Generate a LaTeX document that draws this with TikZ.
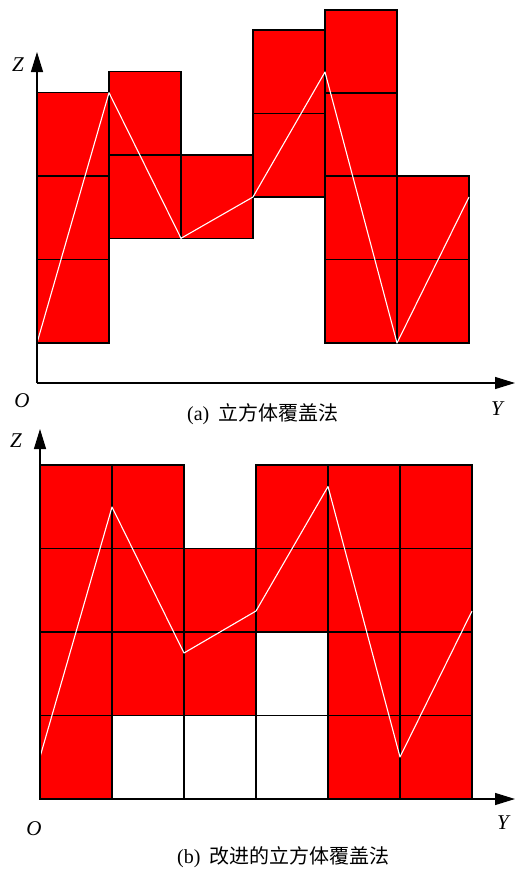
\documentclass[tikz,border=0pt]{standalone}
\usepackage{fontspec}
\setmainfont{Liberation Serif}
\newfontfamily\cjk{Noto Sans CJK SC}
\usetikzlibrary{arrows.meta}
\tikzset{
  cell/.style={draw=black, fill=red, line width=1.3pt},
  emptycell/.style={draw=black, fill=white, line width=1.3pt},
  axis/.style={draw=black, line width=1.3pt, -{Triangle[length=20pt,width=12pt]}},
  curve/.style={draw=white, line width=1.1pt, line join=round},
  axlabel/.style={font=\fontsize{21}{24}\selectfont\itshape, inner sep=0pt},
  caption/.style={font=\fontsize{20}{24}\selectfont, inner sep=0pt, anchor=west}
}
\begin{document}
\begin{tikzpicture}[x=1pt,y=-1pt]
\useasboundingbox (0,0) rectangle (515,870);
% ---------- panel (a) ----------
% column 1
\draw[cell] (37,92.7) rectangle (109,176);
\draw[cell] (37,176) rectangle (109,259.5);
\draw[cell] (37,259.5) rectangle (109,343);
% column 2
\draw[cell] (109,71.7) rectangle (181,155);
\draw[cell] (109,155) rectangle (181,238.3);
% column 3
\draw[cell] (181,155) rectangle (253,238.3);
% column 4
\draw[cell] (253,30) rectangle (325,113.5);
\draw[cell] (253,113.5) rectangle (325,197);
% column 5
\draw[cell] (325,10) rectangle (397,93);
\draw[cell] (325,93) rectangle (397,176);
\draw[cell] (325,176) rectangle (397,259.5);
\draw[cell] (325,259.5) rectangle (397,343);
% column 6
\draw[cell] (397,176) rectangle (469,259.5);
\draw[cell] (397,259.5) rectangle (469,343);
% curve
\draw[curve] (37,343) -- (109,92.7) -- (181,238.3) -- (253,197) -- (325,72) -- (397,343) -- (469,197);
% axes
\coordinate (oa) at (37,383);
\coordinate (za) at (37,52);
\coordinate (ya) at (515,383);
\draw[axis] (oa) -- (za);
\draw[axis] (oa) -- (ya);
\node[axlabel] (Za) at (18,65) {Z};
\node[axlabel] (Oa) at (22,401) {O};
\node[axlabel] (Ya) at (497,409) {Y};
\node[caption] (capa) at (187,414) {(a)\hspace{0.45em}{\cjk 立方体覆盖法}};
% ---------- panel (b) ----------
% column 1
\draw[cell] (40,465) rectangle (112,548.7);
\draw[cell] (40,548.7) rectangle (112,632);
\draw[cell] (40,632) rectangle (112,715.3);
\draw[cell] (40,715.3) rectangle (112,799);
% column 2
\draw[cell] (112,465) rectangle (184,548.7);
\draw[cell] (112,548.7) rectangle (184,632);
\draw[cell] (112,632) rectangle (184,715.3);
\draw[emptycell] (112,715.3) rectangle (184,799);
% column 3
\draw[cell] (184,548.7) rectangle (256,632);
\draw[cell] (184,632) rectangle (256,715.3);
\draw[emptycell] (184,715.3) rectangle (256,799);
% column 4
\draw[cell] (256,465) rectangle (328,548.7);
\draw[cell] (256,548.7) rectangle (328,632);
\draw[emptycell] (256,632) rectangle (328,715.3);
\draw[emptycell] (256,715.3) rectangle (328,799);
% column 5
\draw[cell] (328,465) rectangle (400,548.7);
\draw[cell] (328,548.7) rectangle (400,632);
\draw[cell] (328,632) rectangle (400,715.3);
\draw[cell] (328,715.3) rectangle (400,799);
% column 6
\draw[cell] (400,465) rectangle (472,548.7);
\draw[cell] (400,548.7) rectangle (472,632);
\draw[cell] (400,632) rectangle (472,715.3);
\draw[cell] (400,715.3) rectangle (472,799);
% curve
\draw[curve] (40,757) -- (112,507) -- (184,653) -- (256,611) -- (328,486.5) -- (400,757) -- (472,611);
% axes
\coordinate (ob) at (40,799);
\coordinate (zb) at (40,429);
\coordinate (yb) at (515,799);
\draw[axis] (ob) -- (zb);
\draw[axis] (ob) -- (yb);
\node[axlabel] (Zb) at (16,441) {Z};
\node[axlabel] (Ob) at (34,829) {O};
\node[axlabel] (Yb) at (503,823) {Y};
\node[caption] (capb) at (177,857) {(b)\hspace{0.45em}{\cjk 改进的立方体覆盖法}};
\end{tikzpicture}
\end{document}
